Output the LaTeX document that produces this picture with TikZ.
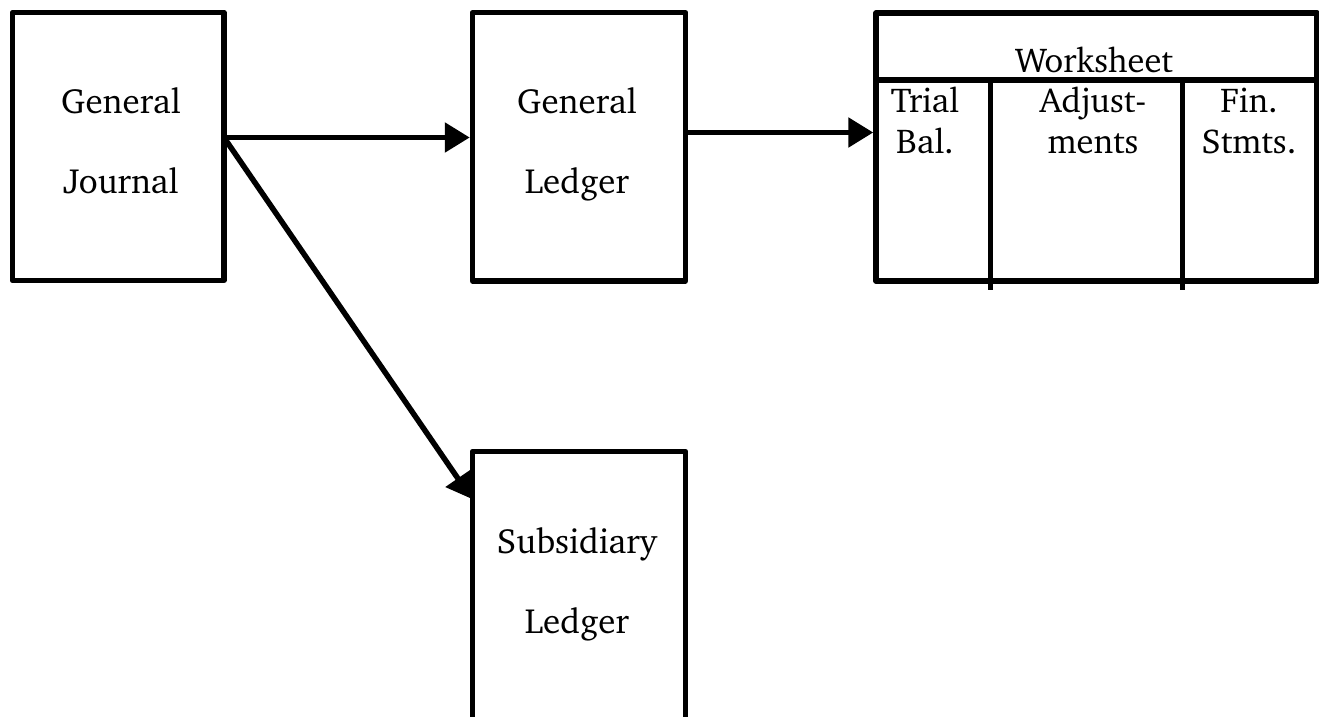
\documentclass[tikz,border=0pt]{standalone}
\usepackage[T1]{fontenc}
\usepackage{charter}
\usetikzlibrary{arrows.meta}
\begin{document}
\begin{tikzpicture}[x=1pt,y=-1pt,
  box/.style={draw=black,line width=5.5pt,line join=round,rectangle,inner sep=0pt},
  txt/.style={anchor=base,inner sep=0pt,font=\fontsize{35}{40}\selectfont},
  wtxt/.style={anchor=base,inner sep=0pt,font=\fontsize{34.5}{40}\selectfont},
  rule/.style={line width=5.5pt},
  conn/.style={line width=5.5pt,-{Triangle[length=25pt,width=29pt]}}]
\clip (0,0) rectangle (1319,717);
% boxes
\node[box,minimum width=211.5pt,minimum height=268pt] (gj) at (118.25,146.5) {};
\node[box,minimum width=213pt,minimum height=268pt] (gl) at (579,146.75) {};
\node[box,minimum width=213pt,minimum height=300pt] (sl) at (579,601.5) {};
\node[box,minimum width=441pt,minimum height=268pt] (ws) at (1096.5,147) {};
% worksheet rulings
\coordinate (h1) at (876,80);
\coordinate (h2) at (1317,80);
\coordinate (d1t) at (990.5,80);
\coordinate (d1b) at (990.5,290);
\coordinate (d2t) at (1182.5,80);
\coordinate (d2b) at (1182.5,290);
\draw[rule] (h1) -- (h2);
\draw[rule] (d1t) -- (d1b);
\draw[rule] (d2t) -- (d2b);
% texts
\node[txt] (gj1) at (121,113) {General};
\node[txt] (gj2) at (121,193) {Journal};
\node[txt] (gl1) at (577,113) {General};
\node[txt] (gl2) at (577,193) {Ledger};
\node[txt] (sl1) at (577,553) {Subsidiary};
\node[txt] (sl2) at (577,633) {Ledger};
\node[wtxt] (wst) at (1094,72) {Worksheet};
\node[wtxt] (c11) at (925,112) {Trial};
\node[wtxt] (c12) at (925,153) {Bal.};
\node[wtxt] (c21) at (1093,112) {Adjust-};
\node[wtxt] (c22) at (1093,153) {ments};
\node[wtxt] (c31) at (1249,112) {Fin.};
\node[wtxt] (c32) at (1249,153) {Stmts.};
% connectors
\coordinate (j1) at (224,137.5);
\coordinate (g1) at (685.5,132.5);
\coordinate (s1) at (472,499);
\draw[conn] (j1) -- (j1 -| gl.west);
\draw[conn] (g1) -- (g1 -| ws.west);
\draw[conn] (j1) -- (s1);
\end{tikzpicture}
\end{document}
